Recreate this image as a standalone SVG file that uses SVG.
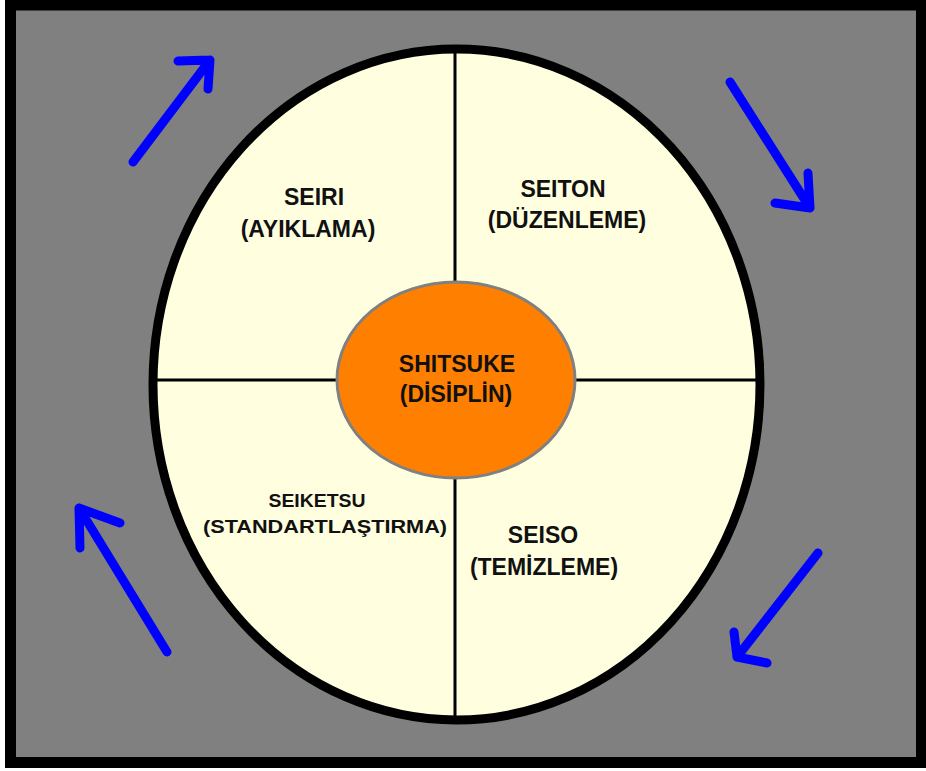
<svg xmlns="http://www.w3.org/2000/svg" width="926" height="771" viewBox="0 0 926 771">
<style>
.lbl{font-family:"Liberation Sans",Arial,sans-serif;font-weight:bold;fill:#111111;text-anchor:middle}
.big{font-size:23px}
.small{font-size:19px}
.arr{fill:none;stroke:#0000ff;stroke-width:9;stroke-linecap:round;stroke-linejoin:round}
</style>
<rect x="0" y="0" width="926" height="771" fill="#ffffff"/>
<rect id="frame" x="10.5" y="5" width="911" height="757.5" fill="#808080" stroke="#000" stroke-width="11"/>
<g id="wheel">
<ellipse cx="456.5" cy="384.5" rx="303.5" ry="335.5" fill="#ffffe0" stroke="#000" stroke-width="9"/>
</g>
<g id="connectors">
<line x1="455" y1="52" x2="455" y2="716" stroke="#000" stroke-width="3"/>
<line x1="156" y1="380" x2="756" y2="380" stroke="#000" stroke-width="3"/>
<path class="arr" d="M133,162 L210,60 M178,61 L210,60 L208,89"/>
<path class="arr" d="M730,82 L810,208 M775,203 L810,208 L808,173"/>
<path class="arr" d="M818,553 L737,657 M734,632 L737,657 L767,663"/>
<path class="arr" d="M167,652 L79,508 M120,523 L79,508 L80,548"/>
</g>
<g id="seiri">
<text class="lbl big" x="314" y="205">SEIRI</text>
<text class="lbl big" x="308" y="237">(AYIKLAMA)</text>
</g>
<g id="seiton">
<text class="lbl big" x="563" y="197">SEITON</text>
<text class="lbl big" x="567" y="228">(DÜZENLEME)</text>
</g>
<g id="seiketsu">
<text class="lbl small" x="317" y="507" textLength="97" lengthAdjust="spacingAndGlyphs">SEIKETSU</text>
<text class="lbl small" x="325" y="533" textLength="244" lengthAdjust="spacingAndGlyphs">(STANDARTLAŞTIRMA)</text>
</g>
<g id="seiso">
<text class="lbl big" x="543" y="543">SEISO</text>
<text class="lbl big" x="544" y="575">(TEMİZLEME)</text>
</g>
<g id="shitsuke">
<ellipse cx="456" cy="380" rx="119" ry="98" fill="#ff8000" stroke="#808080" stroke-width="3"/>
<text class="lbl big" x="457" y="372">SHITSUKE</text>
<text class="lbl big" x="456" y="402">(DİSİPLİN)</text>
</g>
</svg>
